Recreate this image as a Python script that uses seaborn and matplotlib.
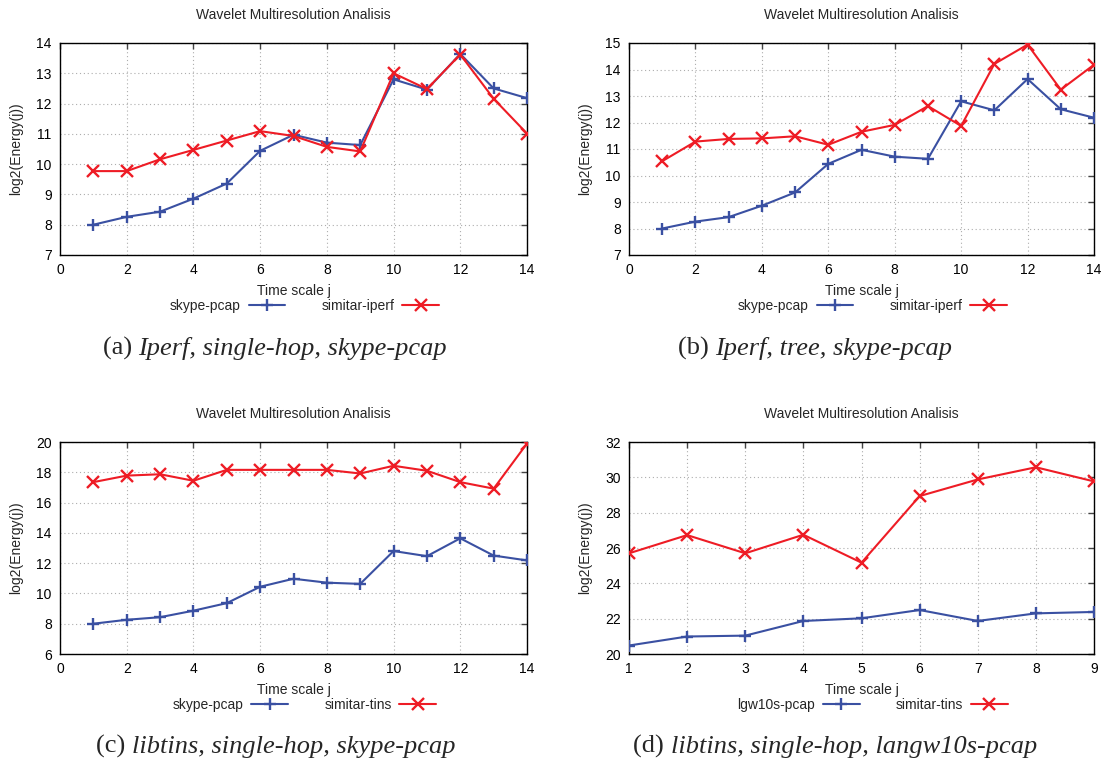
import matplotlib
matplotlib.use("Agg")
import matplotlib.pyplot as plt
import pandas as pd
import seaborn as sns

# ---- data -------------------------------------------------------------
scales_14 = list(range(1, 15))
scales_9 = list(range(1, 10))

skype_pcap = [8.00, 8.26, 8.43, 8.86, 9.36, 10.44, 10.97, 10.71, 10.63,
              12.80, 12.46, 13.64, 12.50, 12.18]
simitar_iperf_single = [9.77, 9.77, 10.16, 10.47, 10.78, 11.09, 10.93, 10.57,
                        10.42, 13.00, 12.48, 13.62, 12.16, 11.01]
simitar_iperf_tree = [10.54, 11.28, 11.38, 11.40, 11.48, 11.16, 11.65, 11.91,
                      12.62, 11.87, 14.21, 14.94, 13.24, 14.18]
simitar_tins_skype = [17.35, 17.78, 17.87, 17.44, 18.16, 18.16, 18.16, 18.16,
                      17.92, 18.43, 18.10, 17.35, 16.92, 19.90]
lgw10s_pcap = [20.48, 20.99, 21.04, 21.87, 22.02, 22.49, 21.87, 22.30, 22.38]
simitar_tins_lgw = [25.70, 26.73, 25.70, 26.75, 25.17, 28.94, 29.88, 30.57, 29.77]

chart_title = "Wavelet Multiresolution Analisis"
x_label = "Time scale j"
y_label = "log2(Energy(j))"

panels = [
    dict(tag="(a)", caption="Iperf, single-hop, skype-pcap",
         x=scales_14, ref=("skype-pcap", skype_pcap),
         gen=("simitar-iperf", simitar_iperf_single),
         xlim=(0, 14), xstep=2, ylim=(7, 14), ystep=1),
    dict(tag="(b)", caption="Iperf, tree, skype-pcap",
         x=scales_14, ref=("skype-pcap", skype_pcap),
         gen=("simitar-iperf", simitar_iperf_tree),
         xlim=(0, 14), xstep=2, ylim=(7, 15), ystep=1),
    dict(tag="(c)", caption="libtins, single-hop, skype-pcap",
         x=scales_14, ref=("skype-pcap", skype_pcap),
         gen=("simitar-tins", simitar_tins_skype),
         xlim=(0, 14), xstep=2, ylim=(6, 20), ystep=2),
    dict(tag="(d)", caption="libtins, single-hop, langw10s-pcap",
         x=scales_9, ref=("lgw10s-pcap", lgw10s_pcap),
         gen=("simitar-tins", simitar_tins_lgw),
         xlim=(1, 9), xstep=1, ylim=(20, 32), ystep=2),
]

# ---- style ------------------------------------------------------------
sns.set_theme(style="white")
plt.rcParams["font.family"] = ["Liberation Sans", "DejaVu Sans"]
plt.rcParams["legend.numpoints"] = 1

BLUE = "#3a50a2"
RED = "#ee1c25"
FS = 10
CAP_FS = 19

W, H = 1110, 760
fig = plt.figure(figsize=(W / 100, H / 100), dpi=100)


def fx(px):
    return px / W


def fy(py):
    return 1 - py / H


# axes boxes in pixels: left, top, right, bottom
boxes = [(60, 43, 527, 255), (629, 43, 1094, 255),
         (60, 442, 527, 654), (629, 442, 1094, 654)]
caption_pos = [(275, 355), (815, 355), (276, 753), (835, 753)]

renderer = fig.canvas.get_renderer()

for p, (l, t, r, b), (cx, cy) in zip(panels, boxes, caption_pos):
    ax = fig.add_axes([fx(l), fy(b), fx(r - l), (b - t) / H])
    ax.set_axisbelow(True)

    for (name, vals), color, marker in ((p["ref"], BLUE, "+"), (p["gen"], RED, "x")):
        df = pd.DataFrame({"j": p["x"], "energy": vals})
        sns.lineplot(data=df, x="j", y="energy", ax=ax, color=color,
                     marker=marker, markersize=9, markeredgewidth=1.7,
                     markeredgecolor=color, linewidth=1.5, label=name,
                     legend=False, zorder=3)

    ax.set_xlim(*p["xlim"])
    ax.set_ylim(*p["ylim"])
    ax.set_xticks(range(p["xlim"][0], p["xlim"][1] + 1, p["xstep"]))
    ax.set_yticks(range(p["ylim"][0], p["ylim"][1] + 1, p["ystep"]))
    ax.set_xlabel("")
    ax.set_ylabel("")
    ax.grid(True, linestyle=(0, (1, 2.5)), color="#adadad", linewidth=0.8)
    for s in ax.spines.values():
        s.set_color("black")
        s.set_linewidth(1.0)
        s.set_visible(True)
    ax.tick_params(direction="in", top=True, right=True, length=4,
                   width=1.0, color="#444444", labelsize=FS,
                   labelcolor="black")
    ax.tick_params(axis="x", pad=6)
    ax.tick_params(axis="y", pad=6)

    xc = (l + r) / 2
    fig.text(fx(xc), fy(t - 28), chart_title, ha="center", va="center",
             fontsize=FS)
    fig.text(fx(xc), fy(b + 36), x_label, ha="center", va="center", fontsize=FS)
    fig.text(fx(l - 44), fy((t + b) / 2), y_label, ha="center", va="center",
             rotation=90, fontsize=FS)

    handles = [ln for ln in ax.get_lines() if not ln.get_label().startswith("_")]
    ax.legend(handles=handles, labels=[h.get_label() for h in handles],
              loc="center", bbox_to_anchor=(fx(xc + 11), fy(b + 51)),
              bbox_transform=fig.transFigure, ncol=2, frameon=False,
              markerfirst=False, handlelength=2.65, handletextpad=0.55,
              columnspacing=2.6, fontsize=FS, borderpad=0, borderaxespad=0)

    # caption: upright tag followed by italic description
    t1 = fig.text(0, fy(cy), p["tag"] + " ", family="Liberation Serif",
                  fontsize=CAP_FS, va="baseline")
    t2 = fig.text(0, fy(cy), p["caption"], family="Liberation Serif",
                  style="italic", fontsize=CAP_FS, va="baseline")
    w1 = t1.get_window_extent(renderer).width
    w2 = t2.get_window_extent(renderer).width
    x0 = cx - (w1 + w2) / 2
    t1.set_x(fx(x0))
    t2.set_x(fx(x0 + w1))

fig.savefig("out.png", dpi=100)
